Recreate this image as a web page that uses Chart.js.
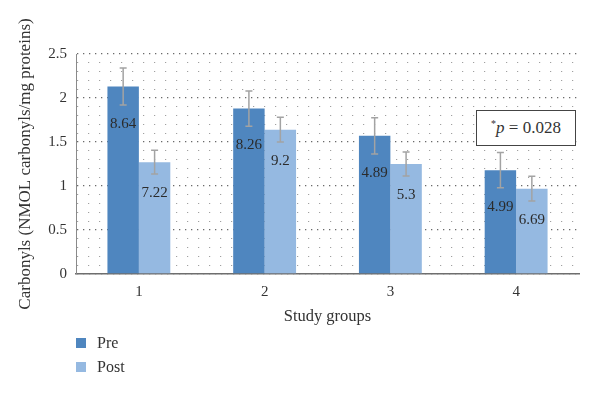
<!DOCTYPE html>
<html>
<head>
<meta charset="utf-8">
<script src="https://cdn.jsdelivr.net/npm/chart.js@4.4.1/dist/chart.umd.min.js"></script>
<style>
  html, body { margin: 0; padding: 0; background: #ffffff; }
  #wrap { position: relative; width: 600px; height: 393px; font-family: "Liberation Serif", serif; color: #333; }
  #c { position: absolute; left: 0; top: 0; }
  .leg { position: absolute; left: 76px; font-size: 16px; line-height: 16px; }
  .leg span.sw { position: absolute; left: 0; top: 3px; width: 10px; height: 10px; }
  .leg span.tx { position: absolute; left: 21px; top: 0; white-space: nowrap; }
  #note { position: absolute; left: 476px; top: 110px; width: 98px; height: 34px; border: 1.5px solid #444; background: #fff;
          font-size: 17px; text-align: center; line-height: 34px; color: #333; }
  #note sup { font-size: 10px; vertical-align: 6px; line-height: 0; }
</style>
</head>
<body>
<div id="wrap">
  <canvas id="c" width="600" height="393"></canvas>
  <div class="leg" style="top:335px;"><span class="sw" style="background:#4f86bf"></span><span class="tx">Pre</span></div>
  <div class="leg" style="top:359px;"><span class="sw" style="background:#95b9e1"></span><span class="tx">Post</span></div>
  <div id="note"><sup>*</sup><i>p</i> = 0.028</div>
</div>
<script>
const categories = ['1', '2', '3', '4'];
const preValues = [2.13, 1.88, 1.57, 1.18];
const postValues = [1.27, 1.64, 1.25, 0.97];
const preErrors = [0.21, 0.20, 0.205, 0.20];
const postErrors = [0.135, 0.14, 0.137, 0.14];
const preLabels = ['8.64', '8.26', '4.89', '4.99'];
const postLabels = ['7.22', '9.2', '5.3', '6.69'];
const yTickLabels = ['0', '0.5', '1', '1.5', '2', '2.5'];

const errorsByDataset = [preErrors, postErrors];
const labelsByDataset = [preLabels, postLabels];

const isMajor = v => Math.abs(v * 2 - Math.round(v * 2)) < 1e-6;

const errorPlugin = {
  id: 'errorBarsAndLabels',
  afterDatasetsDraw(chart) {
    const ctx = chart.ctx;
    const yScale = chart.scales.y;
    chart.data.datasets.forEach((ds, di) => {
      const meta = chart.getDatasetMeta(di);
      meta.data.forEach((bar, i) => {
        const v = ds.data[i];
        const e = errorsByDataset[di][i];
        const x = bar.x;
        const yTop = yScale.getPixelForValue(v + e);
        const yBot = yScale.getPixelForValue(v - e);
        ctx.save();
        ctx.strokeStyle = '#a3a3a3';
        ctx.lineWidth = 1.5;
        ctx.beginPath();
        ctx.moveTo(x, yTop); ctx.lineTo(x, yBot);
        ctx.moveTo(x - 3.5, yTop); ctx.lineTo(x + 3.5, yTop);
        ctx.moveTo(x - 3.5, yBot); ctx.lineTo(x + 3.5, yBot);
        ctx.stroke();
        ctx.fillStyle = '#2b2b2b';
        ctx.font = '15px "Liberation Serif"';
        ctx.textAlign = 'center';
        ctx.textBaseline = 'middle';
        ctx.fillText(labelsByDataset[di][i], x, yBot + 19);
        ctx.restore();
      });
    });
  }
};

new Chart(document.getElementById('c'), {
  type: 'bar',
  data: {
    labels: categories,
    datasets: [
      { label: 'Pre', data: preValues, backgroundColor: '#4f86bf', categoryPercentage: 0.5, barPercentage: 1.0 },
      { label: 'Post', data: postValues, backgroundColor: '#95b9e1', categoryPercentage: 0.5, barPercentage: 1.0 }
    ]
  },
  options: {
    responsive: false,
    animation: false,
    devicePixelRatio: 1,
    layout: { padding: { left: 0, right: 21, top: 54, bottom: 59 } },
    plugins: { legend: { display: false }, tooltip: { enabled: false } },
    scales: {
      x: {
        grid: { display: false, drawTicks: false },
        border: { display: true, color: '#6e6e6e', width: 1.5 },
        ticks: { color: '#333', font: { family: 'Liberation Serif', size: 15 }, padding: 9 },
        title: { display: true, text: 'Study groups', color: '#333', font: { family: 'Liberation Serif', size: 16.5 }, padding: { top: 0, bottom: 7 } },
        afterFit(s) { s.height = 60; }
      },
      y: {
        min: 0, max: 2.5,
        grid: {
          drawTicks: false,
          color: c => (c.tick && isMajor(c.tick.value)) ? '#6a6a6a' : '#a0a0a0',
          lineWidth: c => (c.tick && isMajor(c.tick.value)) ? 1.3 : 1.1
        },
        border: {
          display: true, color: '#8a8a8a', width: 1,
          dash: c => c.tick ? (isMajor(c.tick.value) ? [1.3, 4.7] : [1.2, 9.8]) : []
        },
        ticks: {
          stepSize: 0.1, autoSkip: false, padding: 9, color: '#333',
          font: { family: 'Liberation Serif', size: 15 },
          callback: v => isMajor(v) ? yTickLabels[Math.round(v * 2)] : ''
        },
        title: { display: true, text: 'Carbonyls (NMOL carbonyls/mg proteins)', color: '#333', font: { family: 'Liberation Serif', size: 17 }, padding: { top: 15, bottom: 0 } },
        afterFit(s) { s.width = 76; }
      }
    }
  },
  plugins: [errorPlugin]
});
</script>
</body>
</html>
